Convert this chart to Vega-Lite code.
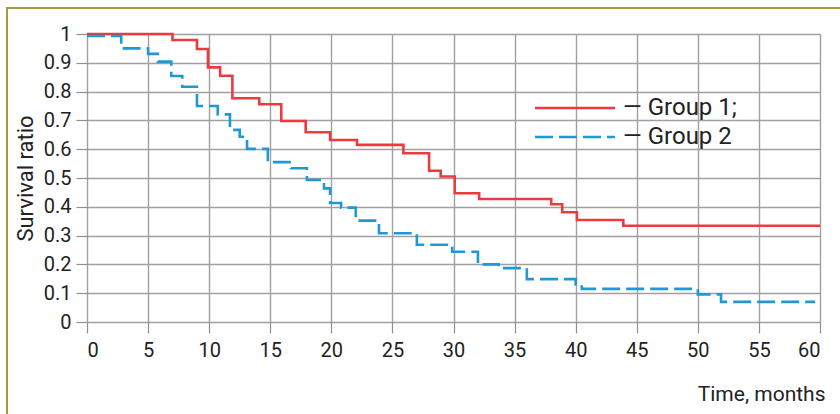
{
  "$schema": "https://vega.github.io/schema/vega-lite/v6.json",
  "width": 835,
  "height": 408,
  "autosize": "none",
  "padding": {"left": 7, "top": 8, "right": -2, "bottom": -2},
  "background": "#ffffff",
  "config": {
    "view": {"stroke": "#a39b3c", "strokeWidth": 2},
    "font": "Roboto",
    "axis": {"gridColor": "#a0a0a0", "gridWidth": 1.4, "tickColor": "#909090", "tickWidth": 1.2, "labelColor": "#222222", "titleColor": "#222222", "titleFontWeight": "normal"}
  },
  "data": {
    "values": [
      {"group": "Group 1", "t": 0, "s": 1.0},
      {"group": "Group 1", "t": 7.0, "s": 0.979},
      {"group": "Group 1", "t": 9.0, "s": 0.948},
      {"group": "Group 1", "t": 9.9, "s": 0.884},
      {"group": "Group 1", "t": 10.9, "s": 0.855},
      {"group": "Group 1", "t": 11.9, "s": 0.777},
      {"group": "Group 1", "t": 14.1, "s": 0.756},
      {"group": "Group 1", "t": 15.9, "s": 0.698},
      {"group": "Group 1", "t": 17.9, "s": 0.659},
      {"group": "Group 1", "t": 19.9, "s": 0.632},
      {"group": "Group 1", "t": 22.1, "s": 0.615},
      {"group": "Group 1", "t": 25.9, "s": 0.586},
      {"group": "Group 1", "t": 28.0, "s": 0.525},
      {"group": "Group 1", "t": 28.95, "s": 0.505},
      {"group": "Group 1", "t": 30.1, "s": 0.447},
      {"group": "Group 1", "t": 32.1, "s": 0.427},
      {"group": "Group 1", "t": 38.0, "s": 0.409},
      {"group": "Group 1", "t": 38.9, "s": 0.381},
      {"group": "Group 1", "t": 40.1, "s": 0.354},
      {"group": "Group 1", "t": 43.9, "s": 0.334},
      {"group": "Group 1", "t": 60, "s": 0.334},
      {"group": "Group 2", "t": 0, "s": 0.993},
      {"group": "Group 2", "t": 2.8, "s": 0.95},
      {"group": "Group 2", "t": 5.0, "s": 0.931},
      {"group": "Group 2", "t": 5.8, "s": 0.904},
      {"group": "Group 2", "t": 6.9, "s": 0.854},
      {"group": "Group 2", "t": 7.8, "s": 0.817},
      {"group": "Group 2", "t": 9.0, "s": 0.75},
      {"group": "Group 2", "t": 10.7, "s": 0.721},
      {"group": "Group 2", "t": 11.7, "s": 0.667},
      {"group": "Group 2", "t": 12.5, "s": 0.643},
      {"group": "Group 2", "t": 13.1, "s": 0.601},
      {"group": "Group 2", "t": 14.8, "s": 0.555},
      {"group": "Group 2", "t": 16.7, "s": 0.534},
      {"group": "Group 2", "t": 18.0, "s": 0.493},
      {"group": "Group 2", "t": 19.4, "s": 0.464},
      {"group": "Group 2", "t": 19.9, "s": 0.413},
      {"group": "Group 2", "t": 20.8, "s": 0.397},
      {"group": "Group 2", "t": 22.0, "s": 0.352},
      {"group": "Group 2", "t": 23.9, "s": 0.308},
      {"group": "Group 2", "t": 27.0, "s": 0.268},
      {"group": "Group 2", "t": 29.9, "s": 0.244},
      {"group": "Group 2", "t": 32.0, "s": 0.2},
      {"group": "Group 2", "t": 33.7, "s": 0.187},
      {"group": "Group 2", "t": 36.0, "s": 0.149},
      {"group": "Group 2", "t": 40.0, "s": 0.13},
      {"group": "Group 2", "t": 40.5, "s": 0.115},
      {"group": "Group 2", "t": 50.0, "s": 0.096},
      {"group": "Group 2", "t": 51.9, "s": 0.07},
      {"group": "Group 2", "t": 59.6, "s": 0.07}
    ]
  },
  "layer": [
    {
      "mark": {"type": "line", "opacity": 0},
      "encoding": {
        "x": {"field": "t", "type": "quantitative",
          "scale": {"domain": [0, 60], "range": [80, 813], "nice": false, "zero": false},
          "axis": {"orient": "top", "grid": true, "labels": false, "ticks": false, "domain": false, "title": null, "values": [0, 5, 10, 15, 20, 25, 30, 35, 40, 45, 50, 55, 60]}},
        "y": {"field": "s", "type": "quantitative",
          "scale": {"domain": [0, 1], "range": [314, 26], "nice": false, "zero": false},
          "axis": {"orient": "left", "offset": -80, "grid": true, "domain": false, "tickSize": 11, "labelPadding": 5,
            "labelFont": "Roboto", "labelFontSize": 20, "format": "~g",
            "values": [0, 0.1, 0.2, 0.3, 0.4, 0.5, 0.6, 0.7, 0.8, 0.9, 1],
            "title": "Survival ratio", "titleFontSize": 22, "titleX": -62, "titleBaseline": "middle"}},
        "detail": {"field": "group"}
      }
    },
    {
      "mark": {"type": "line", "interpolate": "step-after", "strokeWidth": 2.6},
      "encoding": {
        "x": {"field": "t", "type": "quantitative",
          "axis": {"orient": "bottom", "offset": -94, "grid": false, "domain": false, "tickSize": 11, "labelPadding": 7,
            "labelFont": "Roboto", "labelFontSize": 20,
            "values": [0, 5, 10, 15, 20, 25, 30, 35, 40, 45, 50, 55, 60],
            "title": "Time, months", "titleFontSize": 21, "titleX": 818, "titleY": 78, "titleAlign": "right", "titleBaseline": "alphabetic"}},
        "y": {"field": "s", "type": "quantitative"},
        "color": {"field": "group", "type": "nominal",
          "scale": {"domain": ["Group 1", "Group 2"], "range": ["#ec3a40", "#2198d6"]},
          "legend": {"orient": "none", "legendX": 556, "legendY": 88, "title": null, "padding": 0,
            "symbolType": "M-4,0L4,0", "symbolSize": 400, "symbolStrokeWidth": 2.6, "symbolOffset": 0,
            "labelFontSize": 24, "labelOffset": 36, "labelColor": "#222222", "rowPadding": 5,
            "labelExpr": "'— ' + datum.label + (datum.label == 'Group 1' ? ';' : '')"}},
        "strokeDash": {"field": "group", "type": "nominal",
          "scale": {"domain": ["Group 1", "Group 2"], "range": [[1, 0], [18, 6]]},
          "legend": {"orient": "none", "legendX": 556, "legendY": 88, "title": null, "padding": 0,
            "symbolType": "M-4,0L4,0", "symbolSize": 400, "symbolStrokeWidth": 2.6, "symbolOffset": 0,
            "labelFontSize": 24, "labelOffset": 36, "labelColor": "#222222", "rowPadding": 5,
            "labelExpr": "'— ' + datum.label + (datum.label == 'Group 1' ? ';' : '')"}}
      }
    }
  ],
  "resolve": {"axis": {"x": "independent"}}
}
